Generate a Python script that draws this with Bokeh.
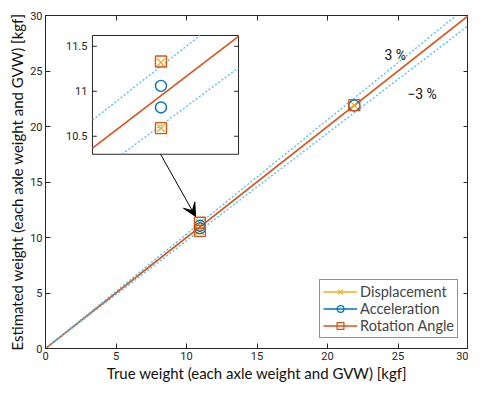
from bokeh.plotting import figure
from bokeh.models import Range1d, LinearAxis, FixedTicker, Arrow, VeeHead
from bokeh.core.properties import value
from bokeh.embed import file_html
from bokeh.resources import INLINE

# ---- data ----
true_weight = [10.95, 10.95, 21.9]
displacement = [11.32, 10.59, 21.91]
acceleration = [11.06, 10.82, 21.88]
rotation = [11.33, 10.59, 21.92]
series_names = ["Displacement", "Acceleration", "Rotation Angle"]
main_ticks = [0, 5, 10, 15, 20, 25, 30]
inset_yticks = [10.5, 11, 11.5]
inset_ytick_labels = ["10.5", "11", "11.5"]
tolerance = [1.03, 0.97]
tol_labels = ["3 %", "\u22123 %"]

# ---- style / layout ----
C_DISP = "#EDB120"
C_ACC = "#0072BD"
C_ROT = "#D95319"
C_TOL = "#4DBEEE"
AX = "#262626"
LABEL_FONT = "Lato"
TICK_FONT = "Roboto"
NAN = float("nan")

p = figure(width=468, height=384, x_range=Range1d(0, 30), y_range=Range1d(0, 30),
           output_backend="svg", toolbar_location=None,
           min_border_left=45, min_border_right=0, min_border_top=15, min_border_bottom=30)
p.grid.visible = False
p.outline_line_color = AX
p.outline_line_width = 1

for ax in [p.xaxis[0], p.yaxis[0]]:
    ax.ticker = FixedTicker(ticks=main_ticks)
    ax.major_tick_in = 5
    ax.major_tick_out = 0
    ax.minor_tick_line_color = None
    ax.axis_line_color = AX
    ax.major_tick_line_color = AX
    ax.major_label_text_color = AX
    ax.major_label_text_font = TICK_FONT
    ax.major_label_text_font_size = "11px"
    ax.axis_label_text_font = LABEL_FONT
    ax.axis_label_text_font_size = "15px"
    ax.axis_label_text_font_style = "normal"
    ax.axis_label_text_color = "#111111"
    ax.major_label_standoff = 3
    ax.axis_label_standoff = 1
p.xaxis.axis_label = "True weight (each axle weight and GVW) [kgf]"
p.yaxis.axis_label = "Estimated weight (each axle weight and GVW) [kgf]"

for loc in ["right", "above"]:
    a = LinearAxis(ticker=FixedTicker(ticks=main_ticks), major_tick_in=5, major_tick_out=0,
                   minor_tick_line_color=None,
                   major_label_overrides={t: "" for t in main_ticks},
                   major_label_standoff=0, axis_line_color=AX, major_tick_line_color=AX)
    p.add_layout(a, loc)

# reference lines
x_line = [main_ticks[0], main_ticks[-1]]
p.line(x_line, x_line, color=C_ROT, line_width=1.6)
for k in tolerance:
    p.line(x_line, [k * v for v in x_line], color=C_TOL, line_width=1.3, line_dash="2 2")

# legend proxies
colors = [C_DISP, C_ACC, C_ROT]
markers = ["x", "circle", "square"]
ys = [displacement, acceleration, rotation]
for name, c, m, y in zip(series_names, colors, markers, ys):
    p.line([NAN], [NAN], color=c, line_width=1.3, legend_label=name)
    p.scatter(true_weight, y, marker=m, size=11, line_color=c, fill_color=None,
              line_width=1.3, legend_label=name)

# tolerance labels
p.text(x=[24.8, 26.7], y=[26.4, 22.9], text=tol_labels, text_font=value(TICK_FONT),
       text_font_size="14px", text_align="center", text_baseline="middle", text_color="#111111")

# ---- inset ----
IX0, IX1, IY0, IY1 = 10.367, 11.61, 10.30, 11.62
TX0, TX1, TY0, TY1 = 3.33, 13.69, 17.5, 28.2
p.quad(left=[TX0], right=[TX1], bottom=[TY0], top=[TY1], fill_color="white",
       line_color=AX, line_width=1)
sub = p.subplot(x_source=Range1d(IX0, IX1), y_source=Range1d(IY0, IY1),
                x_target=Range1d(TX0, TX1), y_target=Range1d(TY0, TY1))

def clip(k):
    xs = max(IX0, IY0 / k)
    xe = min(IX1, IY1 / k)
    return [xs, xe], [k * xs, k * xe]

for k, c, w, d in [(tolerance[0], C_TOL, 1.3, "2 2"), (tolerance[1], C_TOL, 1.3, "2 2"),
                   (1.0, C_ROT, 1.6, "solid")]:
    lx, ly = clip(k)
    sub.line(lx, ly, color=c, line_width=w, line_dash=d)

for c, m, y in zip(colors, markers, ys):
    sub.scatter(true_weight[:2], y[:2], marker=m, size=11, line_color=c, fill_color=None,
                line_width=1.4)

tl = 0.03 * (IX1 - IX0)
sub.segment(x0=[IX0] * 3, y0=inset_yticks, x1=[IX0 + tl] * 3, y1=inset_yticks, color=AX)
sub.segment(x0=[IX1] * 3, y0=inset_yticks, x1=[IX1 - tl] * 3, y1=inset_yticks, color=AX)
sub.text(x=[IX0] * 3, y=inset_yticks, text=inset_ytick_labels, x_offset=-5,
         text_align="right", text_baseline="middle", text_font=value(TICK_FONT),
         text_font_size="11px", text_color=AX)

p.add_layout(Arrow(end=VeeHead(size=13, fill_color="black", line_color="black"),
                   x_start=8.16, y_start=17.5, x_end=10.64, y_end=11.9,
                   line_color="black", line_width=1))

lg = p.legend[0]
lg.location = "bottom_right"
lg.margin = 10
lg.padding = 3
lg.spacing = 0
lg.glyph_width = 34
lg.glyph_height = 17
lg.label_height = 17
lg.label_standoff = 3
lg.label_text_font = LABEL_FONT
lg.label_text_font_size = "14.5px"
lg.border_line_color = AX
lg.border_line_width = 1

open("out.html", "w").write(file_html(p, INLINE))
